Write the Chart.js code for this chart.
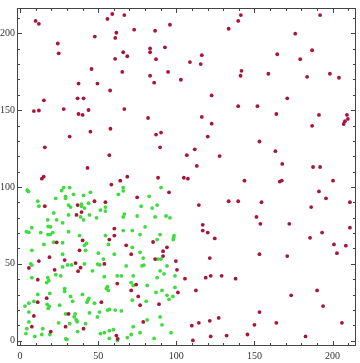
<!DOCTYPE html>
<html>
<head>
<meta charset="utf-8">
<script src="https://cdn.jsdelivr.net/npm/chart.js@4.4.0/dist/chart.umd.min.js"></script>
<style>
  html, body { margin: 0; padding: 0; background: #fff; }
</style>
</head>
<body>
<canvas id="scatter" width="360" height="363"></canvas>
<script>
// Tick positions (labelled every 50, small ticks every 10)
const majorTicks = [0, 50, 100, 150, 200];
const minorTicks = [10, 20, 30, 40, 60, 70, 80, 90, 110, 120, 130, 140, 160, 170, 180, 190, 210];

// Red points, spread over the whole square
const redPoints = [
    [9.9,208.1],[12.0,206.2],[59.0,212.6],[55.9,209.4],[61.6,200.4],[60.9,197.0],[47.8,197.9],[24.1,193.4],
    [24.7,187.0],[60.8,183.4],[45.7,176.8],[37.4,167.3],[49.5,167.3],[57.6,162.8],[15.2,156.4],[36.8,157.7],
    [40.6,157.7],[8.8,149.4],[12.0,149.8],[27.9,150.7],[43.8,150.1],[37.4,147.5],[40.0,146.9],
    [66.7,211.9],[73.0,202.4],[86.4,201.7],[95.9,205.6],[133.5,203.0],[66.0,187.7],[68.6,185.1],[83.2,190.2],
    [83.2,187.7],[92.7,190.9],[87.0,183.2],[116.3,185.8],[108.7,181.3],[115.6,180.0],[65.4,174.9],[83.2,172.4],
    [94.7,174.9],[85.8,167.9],[102.9,169.8],[122.6,159.6],[66.7,150.7],[81.9,144.9],[116.3,145.6],[122.6,141.2],
    [141.3,211.9],[139.6,208.1],[192.0,211.9],[176.1,199.8],[186.9,189.0],[164.6,186.4],[179.3,183.2],[141.7,175.6],
    [141.1,172.4],[158.9,173.7],[183.7,171.7],[198.3,173.7],[204.1,171.1],[171.0,157.7],[139.6,152.6],[151.9,152.6],
    [164.0,147.5],[191.3,146.9],[209.2,146.9],[209.8,144.3],[207.9,142.8],[207.1,141.0],
    [186.9,139.8],[153.2,129.6],[163.4,123.3],[167.8,115.0],[187.5,113.0],[192.0,113.0],[143.6,104.1],[166.2,103.5],
    [167.5,104.2],[200.3,104.1],[191.3,97.1],[195.8,92.6],[139.6,90.7],[154.5,90.1],[211.1,90.1],[186.3,86.9],
    [151.3,80.5],[153.8,76.0],[172.3,76.0],[211.1,73.5],[193.3,70.3],[185.6,66.9],
    [200.9,62.6],[208.5,61.8],[153.2,56.3],[171.0,55.0],[202.8,56.9],[190.1,32.7],[173.5,29.5],[193.9,22.5],
    [153.2,18.6],[164.0,11.6],[150.0,10.3],[206.0,11.6],[145.5,4.0],[182.7,2.7],
    [87.0,134.1],[90.2,135.4],[120.1,132.8],[89.6,125.8],[111.8,124.5],[106.7,120.7],[127.7,120.1],[113.1,113.7],
    [68.6,106.7],[64.1,104.1],[88.3,106.0],[104.8,106.0],[107.4,105.4],[95.3,96.5],[74.9,93.3],[133.5,90.7],
    [114.4,88.2],[116.9,75.4],[116.9,71.6],[120.1,70.3],[124.6,66.5],[85.1,64.2],
    [45.0,136.0],[57.8,137.9],[31.7,132.8],[15.8,125.8],[57.1,120.7],[43.1,112.4],[13.9,105.4],[15.1,106.7],
    [58.4,101.6],[15.8,87.5],[36.8,88.2],[39.3,83.7],[36.1,81.8],[47.6,90.7],[54.6,90.1],[60.3,72.9],
    [60.3,68.4],[40.0,65.2],[57.1,65.8],[23.4,64.0],
    [38.0,58.8],[18.8,54.3],[28.5,52.4],[12.0,51.8],[35.5,50.5],[53.9,49.9],[5.6,47.3],[38.7,47.5],
    [22.1,46.1],[37.1,45.2],[11.3,39.7],[62.2,37.1],[17.0,27.6],[11.3,25.0],[52.0,25.0],[31.0,17.4],
    [8.8,16.1],[7.5,9.1],[29.1,9.1],[40.6,7.8],[19.6,5.9],[61.6,3.3],[62.5,1.2],
    [67.9,62.0],[94.0,60.7],[91.5,58.2],[71.1,56.3],[91.5,55.0],[86.4,53.1],[99.7,51.8],[121.4,53.7],
    [100.4,46.1],[118.8,41.0],[122.0,42.2],[129.0,42.2],[137.9,40.3],[105.5,40.3],[74.3,36.5],[71.1,32.7],
    [101.0,31.4],[112.5,32.7],[75.6,28.8],[76.8,23.1],[88.9,23.7],[78.8,12.2],[127.1,14.8],[121.4,12.9],
    [114.4,11.6],[109.9,9.7],[132.2,3.3],[122.0,2.7],[110.6,0.1]
];

// Green points, inside the 0-100 square
const greenPoints = [
    [66.0,99.6],[66.0,97.5],[90.2,99.6],[62.9,95.2],[82.6,93.9],[77.5,87.5],[84.5,86.3],[87.7,88.2],
    [66.7,82.4],[66.0,80.5],[74.9,81.1],[86.4,80.5],[93.4,81.1],[95.9,79.9],[80.0,74.1],[66.0,71.6],
    [71.8,71.6],[76.8,69.0],[89.6,69.0],[98.5,68.4],[98.3,67.1],[98.0,65.8],[87.7,65.8],
    [4.6,97.9],[5.3,97.0],[27.9,99.6],[31.7,99.6],[26.6,97.7],[29.1,93.9],[29.1,92.6],[34.2,95.2],
    [40.6,94.5],[45.0,96.5],[22.8,92.6],[11.3,90.7],[12.0,87.5],[31.0,88.2],[32.3,86.9],[39.3,88.8],
    [39.3,87.5],[43.8,89.4],[41.2,86.3],[54.6,86.9],[54.6,84.3],[51.4,85.0],[21.5,83.1],[31.0,81.8],
    [38.7,80.5],[44.4,81.8],[40.6,78.6],[48.9,79.9],[17.7,78.6],[23.4,78.6],[27.2,76.7],[18.0,74.3],
    [19.5,74.0],[7.5,73.5],[4.0,70.9],[5.6,70.5],[13.2,70.3],[20.9,70.3],[17.8,69.0],[19.2,69.0],
    [31.0,70.9],[38.0,68.4],[54.6,68.4],
    [15.2,62.6],[21.5,64.1],[27.2,63.7],[42.5,63.3],[41.2,62.0],[56.5,62.6],[7.5,58.8],[41.9,58.8],
    [27.2,56.3],[50.1,56.9],[60.3,56.3],[53.3,53.1],[6.8,50.0],[7.5,49.2],[30.4,49.3],[32.9,49.3],
    [27.2,48.0],[41.2,49.9],[49.6,49.8],[51.0,49.3],[46.3,45.4],[22.8,42.9],[26.0,42.2],[7.5,41.0],
    [17.7,41.0],[18.3,39.0],[17.0,37.8],[53.9,41.6],[55.9,35.2],[55.2,33.9],[56.5,32.7],[62.2,42.2],
    [28.5,33.9],[28.5,32.0],[19.0,30.7],[11.3,30.1],[32.3,28.8],[39.9,30.1],[44.0,27.5],[43.4,26.3],
    [42.8,25.0],[33.6,25.6],[8.8,25.6],[5.6,24.4],[47.6,24.4],[17.3,23.6],[18.7,22.3],[18.0,21.0],
    [3.1,22.5],[25.3,23.1],[50.8,18.6],[56.0,19.9],[57.2,20.3],[60.9,19.9],[5.6,18.6],[29.1,17.4],
    [35.2,17.4],[34.6,15.5],[35.9,13.6],[36.5,12.3],[49.5,15.4],[44.4,18.0],[5.6,12.2],[24.7,11.6],
    [41.9,11.0],[31.7,11.0],[4.3,7.8],[14.5,7.8],[36.8,5.9],[3.7,4.6],[13.9,4.0],[19.0,4.0],
    [9.4,2.7],[29.2,1.2],[30.0,0.8],[51.4,4.6],[53.9,5.2],[57.1,6.5],[59.7,7.1],[57.1,1.4],[62.2,0.1],
    [71.8,60.7],[76.8,57.5],[78.8,53.7],[88.3,53.1],[90.2,53.1],[67.9,48.6],[78.0,48.7],[79.2,49.2],
    [94.0,48.6],[89.6,45.4],[92.1,43.5],[64.8,42.2],[72.4,42.2],[87.7,41.0],[99.1,42.2],[71.1,37.8],
    [72.4,35.9],[81.3,35.9],[99.1,34.6],[90.8,32.7],[87.0,31.4],[94.0,29.5],[97.8,28.8],[95.3,26.9],
    [71.8,26.3],[80.7,25.6],[64.8,19.3],[89.6,15.4],[81.3,13.5],[90.8,10.3],[72.4,9.1],[96.6,5.2],
    [76.8,5.2],[71.1,4.0],[68.6,2.0],[85.8,1.4]
];

Chart.defaults.font.family = "'Liberation Serif', 'DejaVu Serif', serif";
Chart.defaults.font.size = 10;
Chart.defaults.color = '#333';

const toXY = arr => arr.map(p => ({ x: p[0], y: p[1] }));

// Mathematica-like frame with inward ticks on all four sides
const frameTicks = {
    id: 'frameTicks',
    afterDatasetsDraw(chart) {
        const { ctx, chartArea: a, scales: { x, y } } = chart;
        ctx.save();
        ctx.strokeStyle = '#444';
        ctx.lineWidth = 1;
        ctx.strokeRect(a.left + 0.5, a.top + 0.5, a.right - a.left - 1, a.bottom - a.top - 1);
        ctx.beginPath();
        const all = majorTicks.map(v => [v, 5]).concat(minorTicks.map(v => [v, 3]));
        all.forEach(([v, len]) => {
            const px = Math.round(x.getPixelForValue(v)) + 0.5;
            ctx.moveTo(px, a.bottom); ctx.lineTo(px, a.bottom - len);
            ctx.moveTo(px, a.top); ctx.lineTo(px, a.top + len);
            const py = Math.round(y.getPixelForValue(v)) + 0.5;
            ctx.moveTo(a.left, py); ctx.lineTo(a.left + len, py);
            ctx.moveTo(a.right, py); ctx.lineTo(a.right - len, py);
        });
        ctx.stroke();
        ctx.restore();
    }
};

const setTicks = scale => { scale.ticks = majorTicks.map(v => ({ value: v })); };

new Chart(document.getElementById('scatter').getContext('2d'), {
    type: 'scatter',
    data: {
        datasets: [
            {
                label: 'outer',
                data: toXY(redPoints),
                backgroundColor: '#a8143a',
                borderWidth: 0,
                pointRadius: 1.9
            },
            {
                label: 'inner',
                data: toXY(greenPoints),
                backgroundColor: '#3fdc3f',
                borderWidth: 0,
                pointRadius: 1.9
            }
        ]
    },
    options: {
        responsive: false,
        animation: false,
        layout: { padding: { top: 1, right: 1, left: 0, bottom: 0 } },
        plugins: {
            legend: { display: false },
            tooltip: { enabled: false }
        },
        scales: {
            x: {
                type: 'linear',
                min: -2,
                max: 215,
                grid: { display: false, drawTicks: false },
                border: { display: false },
                ticks: { padding: 4 },
                afterBuildTicks: setTicks,
                afterFit: s => { s.height = 17; }
            },
            y: {
                type: 'linear',
                min: -3.5,
                max: 216.5,
                grid: { display: false, drawTicks: false },
                border: { display: false },
                ticks: { padding: 2 },
                afterBuildTicks: setTicks,
                afterFit: s => { s.width = 17; }
            }
        }
    },
    plugins: [frameTicks]
});
</script>
</body>
</html>
